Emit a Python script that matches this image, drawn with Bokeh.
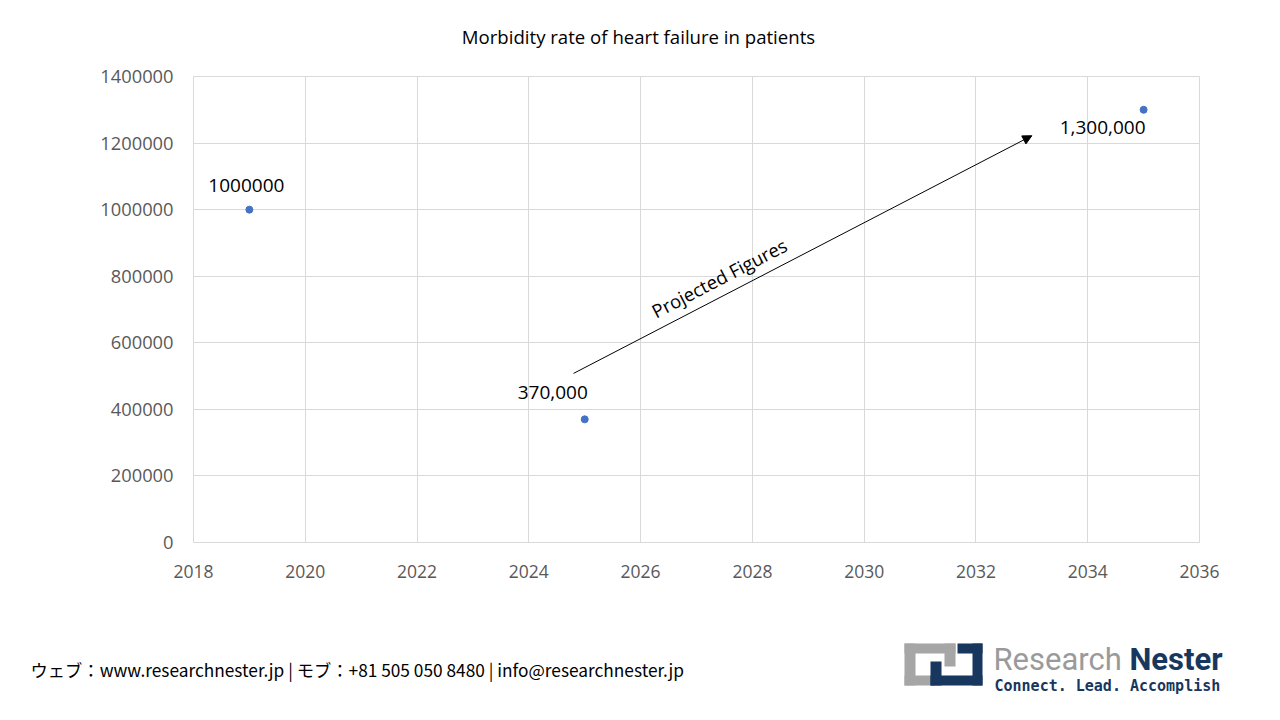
from bokeh.plotting import figure
from bokeh.models import Range1d, FixedTicker, BasicTickFormatter, Arrow, NormalHead
from bokeh.core.properties import value
from bokeh.embed import file_html
from bokeh.resources import INLINE

# data
years = [2019, 2025, 2035]
patients = [1000000, 370000, 1300000]
point_labels = ["1000000", "370,000", "1,300,000"]
x_ticks = [2018, 2020, 2022, 2024, 2026, 2028, 2030, 2032, 2034, 2036]
y_ticks = [0, 200000, 400000, 600000, 800000, 1000000, 1200000, 1400000]

# projection arrow (data coords)
arrow_start = (2024.8, 508000)
arrow_end = (2033.0, 1222000)

W = 1264
FONT = "Open Sans"


def blank(h):
    # plain pixel canvas: x = page px, y = px from the bottom of this strip
    b = figure(width=W, height=h, x_range=Range1d(0, W), y_range=Range1d(0, h),
               toolbar_location=None, output_backend="svg", min_border=0)
    b.axis.visible = False
    b.grid.visible = False
    b.outline_line_color = None
    return b


# title strip, page y 0-58
head = blank(58)
head.text(x=[638], y=[58 - 36], text=["Morbidity rate of heart failure in patients"],
          text_font=value(FONT), text_font_size="18.6px", text_color="#000000",
          text_align="center", text_baseline="middle")

# chart, page y 58-628, frame 193-1199 x 76-542
p = figure(width=W, height=570, x_range=Range1d(2018, 2036), y_range=Range1d(0, 1400000),
           toolbar_location=None, output_backend="svg",
           min_border_left=193, min_border_right=65, min_border_top=18, min_border_bottom=86)
p.outline_line_color = "#d9d9d9"
p.xaxis.ticker = FixedTicker(ticks=x_ticks)
p.yaxis.ticker = FixedTicker(ticks=y_ticks)
p.yaxis.formatter = BasicTickFormatter(use_scientific=False)
for ax in [p.xaxis[0], p.yaxis[0]]:
    ax.axis_line_color = None
    ax.major_tick_line_color = None
    ax.minor_tick_line_color = None
    ax.major_label_text_font = FONT
    ax.major_label_text_font_size = "17.5px"
    ax.major_label_text_color = "#595959"
p.yaxis.major_label_text_font_size = "18.3px"
p.yaxis.major_label_standoff = 14
p.xaxis.major_label_standoff = 16
p.grid.grid_line_color = "#d9d9d9"
p.grid.grid_line_width = 1

p.scatter(years, patients, size=7, color="#4472C4")

lbl_dx = [-3, -32, -41]
lbl_dy = [24, 27, -18]
for i in range(len(years)):
    p.text(x=[years[i]], y=[patients[i]], text=[point_labels[i]], x_offset=lbl_dx[i], y_offset=-lbl_dy[i],
           text_font=value(FONT), text_font_size="19px", text_color="#000000",
           text_align="center", text_baseline="middle")

p.add_layout(Arrow(end=NormalHead(size=9, fill_color="black", line_color="black"),
                   x_start=arrow_start[0], y_start=arrow_start[1],
                   x_end=arrow_end[0], y_end=arrow_end[1],
                   line_color="black", line_width=1))
p.text(x=[2026.22], y=[692000], text=["Projected Figures"], angle=0.478,
       text_font=value(FONT), text_font_size="18.5px", text_color="#000000",
       text_align="left", text_baseline="alphabetic")

# footer strip, page y 628-712
foot = blank(84)


def fy(py):
    return 712 - py


foot.text(x=[30], y=[fy(669)], text=["ウェブ：www.researchnester.jp | モブ：+81 505 050 8480 | info@researchnester.jp"],
          text_font=value("Noto Sans CJK JP"), text_font_size="17.3px", text_color="#000000",
          text_align="left", text_baseline="middle")

gray, navy = "#a6a6a6", "#17375e"
logo_boxes = [
    (904, 955, 643, 653, gray), (904, 915, 643, 685, gray), (944, 955, 643, 666, gray),
    (904, 934, 675, 685, gray),
    (957, 982, 643, 653, navy), (972, 982, 643, 685, navy), (930, 982, 675, 685, navy),
    (930, 941, 661, 685, navy),
]
for l, r, t, b, c in logo_boxes:
    foot.quad(left=l, right=r, top=fy(t), bottom=fy(b), fill_color=c, line_color=None)
foot.text(x=[993], y=[fy(659)], text=["Research"], text_font=value("Roboto"), text_font_size="31px",
          text_color="#9a9a9a", text_align="left", text_baseline="middle")
foot.text(x=[1222], y=[fy(659)], text=["Nester"], text_font=value("Roboto"), text_font_size="31px",
          text_font_style="bold", text_color=navy, text_align="right", text_baseline="middle")
foot.text(x=[994], y=[fy(685)], text=["Connect. Lead. Accomplish"], text_font=value("DejaVu Sans Mono"),
          text_font_size="15px", text_font_style="bold", text_color=navy,
          text_align="left", text_baseline="middle")

open("out.html", "w").write(file_html([head, p, foot], INLINE))
